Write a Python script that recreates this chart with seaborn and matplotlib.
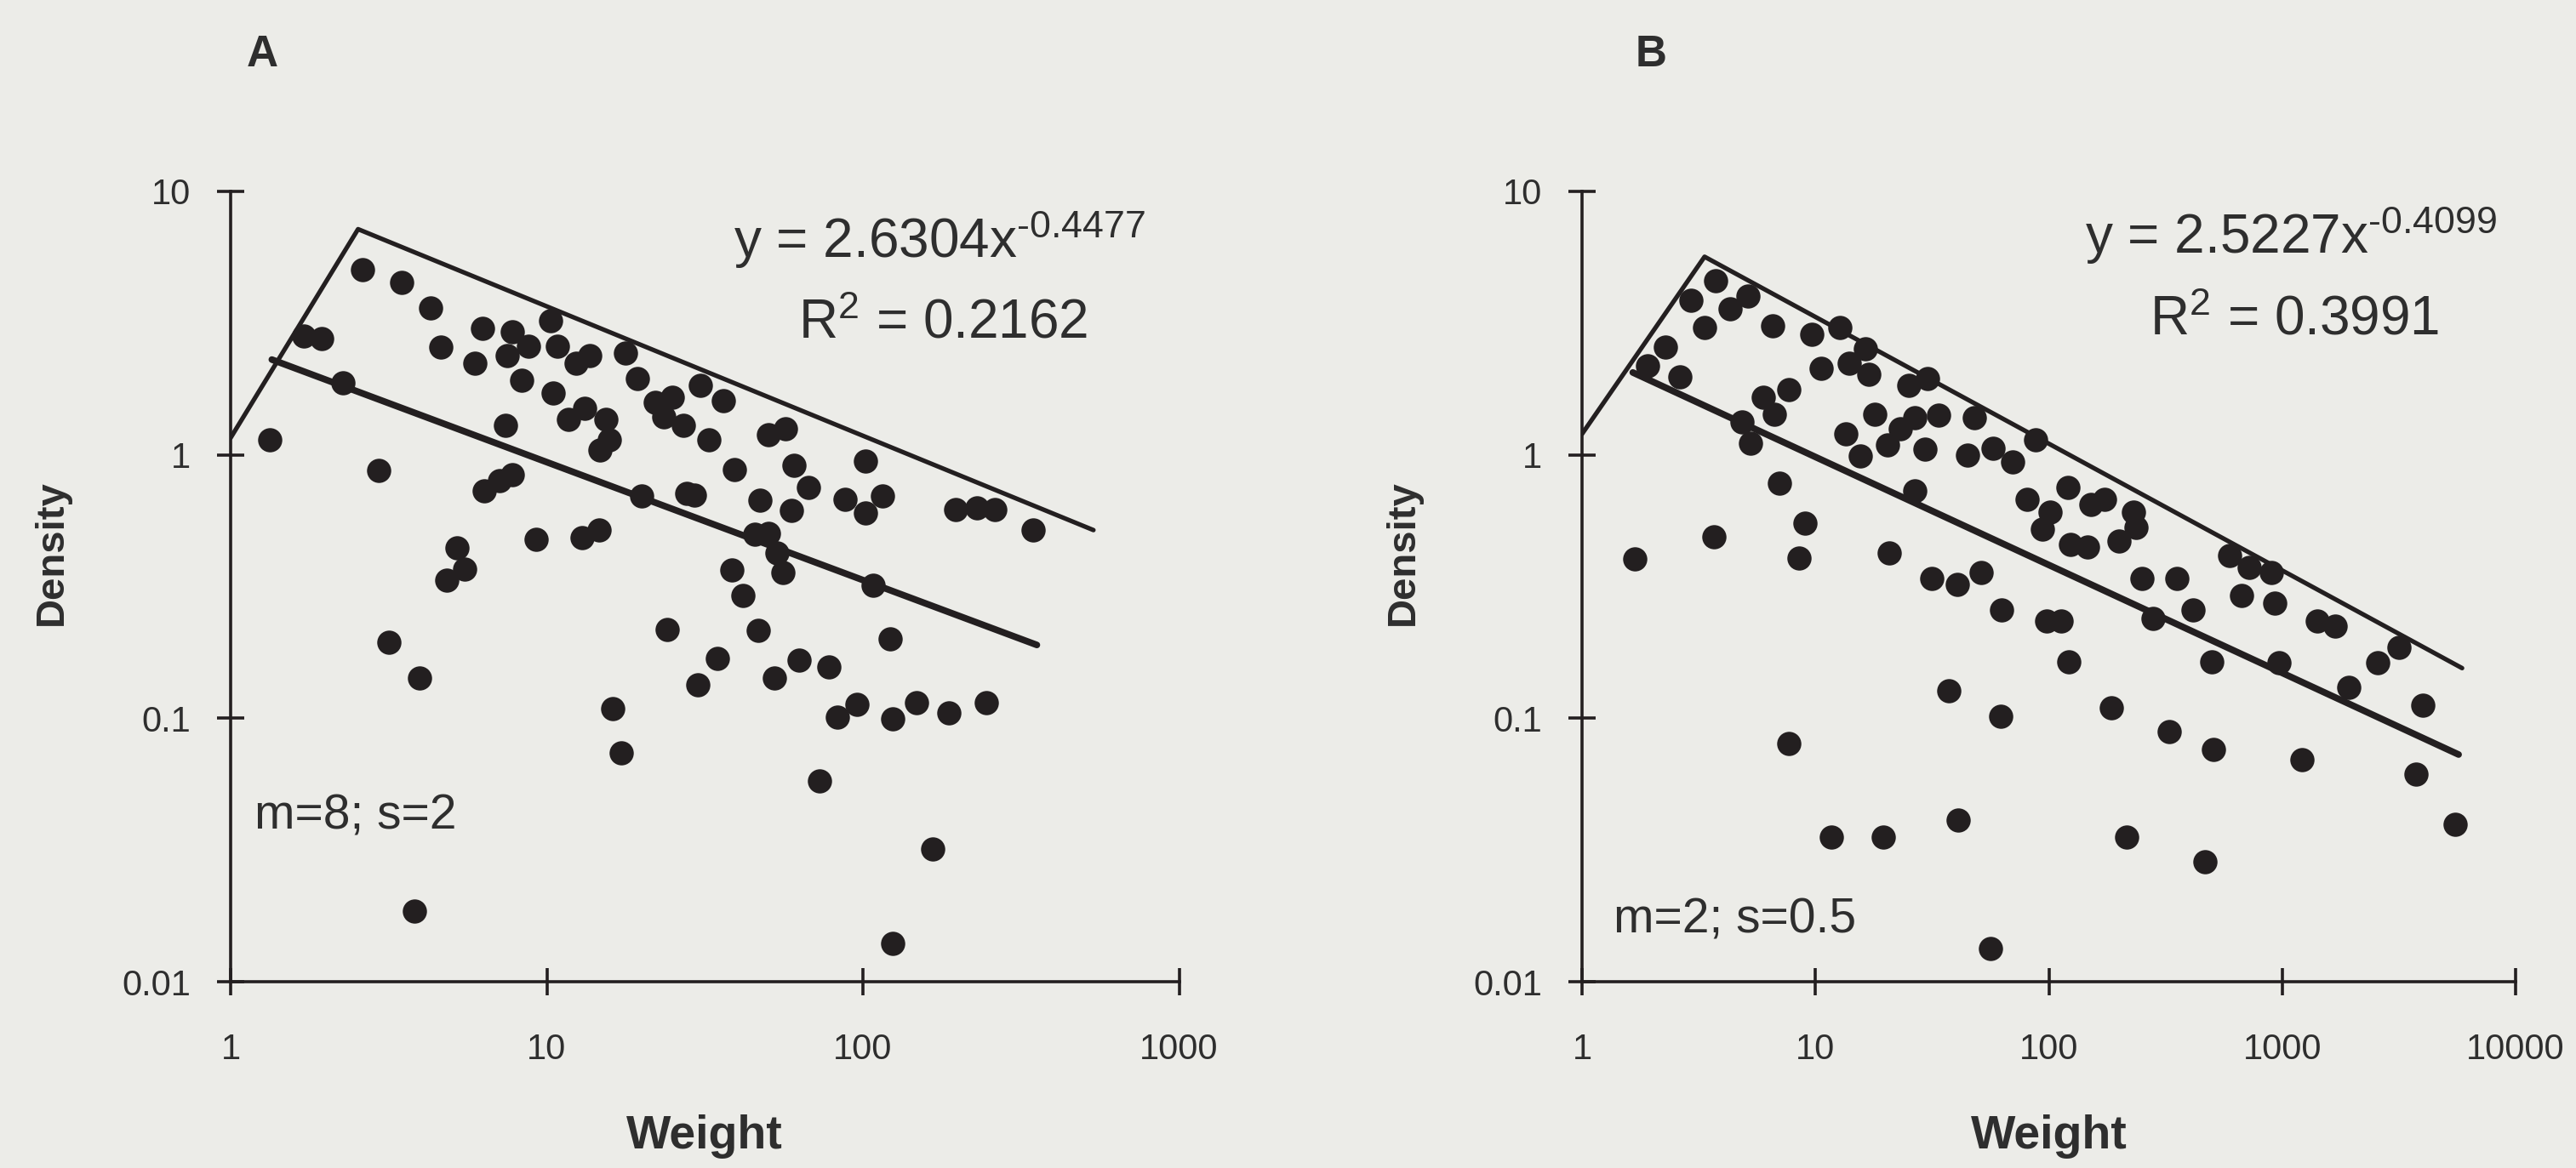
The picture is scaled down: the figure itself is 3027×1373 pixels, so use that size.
import matplotlib
matplotlib.use("Agg")
import matplotlib.pyplot as plt
import matplotlib.ticker as mticker
import numpy as np
import pandas as pd
import seaborn as sns

W, H = 3027, 1373

# ---------------- data ----------------
weight_a = [2.61, 3.47, 4.30, 6.28, 4.61, 5.92, 7.77, 8.75, 7.50, 8.35, 7.41, 1.33, 1.70, 1.94,
            2.26, 2.94, 6.35, 7.07, 7.77,
            5.19, 5.51, 4.84, 9.28, 3.16, 3.96, 3.81, 16.2, 17.2, 24.0,
            10.3, 10.8, 12.4, 13.7, 17.7, 19.3, 10.5, 11.7, 13.2, 15.4, 15.8, 14.7, 22.0, 24.9,
            23.5, 27.1, 30.7, 36.2, 32.6, 39.3, 50.4, 57.0, 60.6, 67.3, 59.4, 47.3, 102, 87.9,
            102, 115, 27.7, 29.4, 19.9, 12.9, 14.6, 45.4, 50.4, 53.6, 55.9, 38.5, 41.8, 108,
            197, 230, 261,
            346, 46.7, 122, 34.7, 30.1, 52.4, 62.7, 78.0, 83.1, 95.8, 124, 148, 187, 245,
            73.1, 166, 124]
density_a = [5.06, 4.52, 3.62, 3.01, 2.56, 2.23, 2.93, 2.59, 2.38, 1.92, 1.29, 1.14, 2.83, 2.76,
             1.88, 0.871, 0.732, 0.798, 0.839,
             0.444, 0.369, 0.334, 0.477, 0.194, 0.142, 0.0186, 0.109, 0.0739, 0.218,
             3.23, 2.58, 2.23, 2.38, 2.44, 1.95, 1.72, 1.36, 1.50, 1.36, 1.14, 1.04, 1.58, 1.66,
             1.39, 1.29, 1.83, 1.60, 1.14, 0.881, 1.19, 1.26, 0.915, 0.750, 0.615, 0.671, 0.949, 0.679,
             0.601, 0.697, 0.714, 0.705, 0.697, 0.486, 0.518, 0.499, 0.505, 0.425, 0.357, 0.366, 0.292, 0.319,
             0.62, 0.63, 0.62,
             0.519, 0.215, 0.200, 0.169, 0.134, 0.142, 0.166, 0.157, 0.101, 0.113, 0.0996, 0.115, 0.105, 0.115,
             0.058, 0.0319, 0.0140]

weight_b = [3.74, 2.94, 4.32, 5.16, 3.34, 6.57, 2.28, 1.91, 2.63, 9.65, 12.7, 16.4, 10.6, 14.0,
            16.9, 7.71, 5.97, 6.67, 4.84, 5.25, 13.5, 15.6, 7.01,
            25.2, 30.2, 18.0, 20.4, 23.2, 26.7, 33.8, 29.4, 48.0, 44.7, 57.5, 70.0, 87.6, 26.7,
            20.7, 31.5, 40.6, 51.4, 62.6, 97.9, 113, 80.5, 121, 151, 174, 101, 93.9, 124, 147,
            230, 237, 200, 250, 355, 596, 722, 667, 414, 280,
            900, 932, 1416, 1686, 3155, 2559, 4020, 1936, 965, 122, 62.2, 185, 499, 328, 507,
            1211, 3750, 5500, 216, 465,
            1.68, 3.68, 9.06, 8.49, 7.71, 37.3, 11.7, 19.6, 41.0, 56.5]
density_b = [4.58, 3.85, 3.58, 4.00, 3.04, 3.08, 2.56, 2.18, 1.97, 2.86, 3.04, 2.53, 2.13, 2.23,
             2.02, 1.77, 1.66, 1.43, 1.33, 1.11, 1.20, 0.99, 0.779,
             1.83, 1.95, 1.43, 1.09, 1.26, 1.38, 1.41, 1.05, 1.38, 1.00, 1.06, 0.938, 1.14, 0.732,
             0.425, 0.340, 0.323, 0.357, 0.258, 0.234, 0.234, 0.679, 0.750, 0.647, 0.679, 0.608, 0.524, 0.457, 0.446,
             0.608, 0.531, 0.469, 0.340, 0.340, 0.414, 0.374, 0.292, 0.258, 0.240,
             0.358, 0.273, 0.234, 0.224, 0.186, 0.162, 0.112, 0.131, 0.162, 0.164, 0.102, 0.110, 0.164, 0.0889, 0.0760,
             0.0698, 0.0614, 0.0395, 0.0353, 0.0285,
             0.402, 0.490, 0.549, 0.407, 0.0805, 0.127, 0.0353, 0.0353, 0.0412, 0.0134]

# power-law fits y = c * x^k and the x range the fitted line covers
fit_a = (2.6304, -0.4477)
fit_b = (2.5227, -0.4099)
fit_range_a = [1.35, 355]
fit_range_b = [1.65, 5700]
r2_a = 0.2162
r2_b = 0.3991

# envelope (left edge + upper boundary) vertices
envelope_a_x = [1.0, 2.53, 536]
envelope_a_y = [1.16, 7.19, 0.518]
envelope_b_x = [1.0, 3.35, 5900]
envelope_b_y = [1.20, 5.65, 0.155]

params_a = "m=8; s=2"
params_b = "m=2; s=0.5"
panel_labels = ["A", "B"]

x_ticks_a = [1, 10, 100, 1000]
x_ticks_b = [1, 10, 100, 1000, 10000]
x_labels_a = ["1", "10", "100", "1000"]
x_labels_b = ["1", "10", "100", "1000", "10000"]
y_ticks = [0.01, 0.1, 1, 10]
y_labels = ["0.01", "0.1", "1", "10"]

# ---------------- style ----------------
sns.set_theme(style="white")
plt.rcParams["font.family"] = ["Liberation Sans", "DejaVu Sans"]
plt.rcParams["mathtext.fontset"] = "custom"
plt.rcParams["mathtext.rm"] = "Liberation Sans"
plt.rcParams["mathtext.it"] = "Liberation Sans:italic"
plt.rcParams["mathtext.bf"] = "Liberation Sans:bold"

BG = "#ECECE8"
INK = "#231F20"
TXT = "#2E2E2E"

fig = plt.figure(figsize=(W / 100, H / 100), dpi=100, facecolor=BG)


def px_axes(left, right, top, bottom):
    return fig.add_axes([left / W, 1 - bottom / H, (right - left) / W, (bottom - top) / H])


def ftext(X, Y, s, **kw):
    fig.text(X / W, 1 - Y / H, s, color=TXT, **kw)


AX_TOP, AX_BOT = 225, 1154
panels = [
    dict(box=(271, 1385.5), x=weight_a, y=density_a, fit=fit_a, fr=fit_range_a, r2=r2_a,
         ex=envelope_a_x, ey=envelope_a_y, xt=x_ticks_a, xl=x_labels_a,
         eq_x=1104, eq_y=(303, 398), par=params_a, par_xy=(299, 975), lab=panel_labels[0], lab_x=308),
    dict(box=(1859, 2956), x=weight_b, y=density_b, fit=fit_b, fr=fit_range_b, r2=r2_b,
         ex=envelope_b_x, ey=envelope_b_y, xt=x_ticks_b, xl=x_labels_b,
         eq_x=2692, eq_y=(298, 393), par=params_b, par_xy=(1896, 1097), lab=panel_labels[1], lab_x=1940),
]

for p in panels:
    left, right = p["box"]
    ax = px_axes(left, right, AX_TOP, AX_BOT)
    ax.set_facecolor(BG)
    ax.set_xscale("log")
    ax.set_yscale("log")

    df = pd.DataFrame({"Weight": p["x"], "Density": p["y"]})
    sns.scatterplot(data=df, x="Weight", y="Density", ax=ax, s=420, color=INK,
                    linewidth=0, zorder=3, clip_on=False)

    env = pd.DataFrame({"Weight": p["ex"], "Density": p["ey"]})
    sns.lineplot(data=env, x="Weight", y="Density", ax=ax, color=INK, linewidth=3.8,
                 estimator=None, sort=False, zorder=2)

    c, k = p["fit"]
    fx = np.array(p["fr"], dtype=float)
    fit_df = pd.DataFrame({"Weight": fx, "Density": c * fx ** k})
    sns.lineplot(data=fit_df, x="Weight", y="Density", ax=ax, color=INK, linewidth=5.6,
                 estimator=None, sort=False, zorder=2)

    ax.set_xlim(p["xt"][0], p["xt"][-1])
    ax.set_ylim(y_ticks[0], y_ticks[-1])

    for s in ["top", "right"]:
        ax.spines[s].set_visible(False)
    for s in ["left", "bottom"]:
        ax.spines[s].set_linewidth(2.6)
        ax.spines[s].set_color(INK)

    ax.xaxis.set_major_locator(mticker.FixedLocator(p["xt"]))
    ax.xaxis.set_major_formatter(mticker.FixedFormatter(p["xl"]))
    ax.yaxis.set_major_locator(mticker.FixedLocator(y_ticks))
    ax.yaxis.set_major_formatter(mticker.FixedFormatter(y_labels))
    ax.xaxis.set_minor_locator(mticker.NullLocator())
    ax.yaxis.set_minor_locator(mticker.NullLocator())
    ax.tick_params(axis="both", which="major", direction="inout", length=23, width=2.6,
                   color=INK, labelsize=30, labelcolor=TXT, bottom=True, left=True)
    ax.tick_params(axis="x", pad=32)
    ax.tick_params(axis="y", pad=22)

    axw = right - left
    axh = AX_BOT - AX_TOP
    ax.set_xlabel("Weight", fontsize=40, fontweight="bold", color=TXT)
    ax.xaxis.set_label_coords(0.5, (AX_BOT - 1350) / axh)
    ax.xaxis.label.set_va("baseline")
    ax.set_ylabel("Density", fontsize=34, fontweight="bold", color=TXT)
    ax.yaxis.set_label_coords(-210 / axw, (AX_BOT - 650) / axh)
    ax.yaxis.label.set_va("center")
    ax.yaxis.label.set_ha("center")

    eq = f"y = {c:.4f}x" + r"$^{\text{" + f"{k:.4f}" + r"}}$"
    ftext(p["eq_x"], p["eq_y"][0], eq, fontsize=46, ha="center", va="baseline")
    ftext(p["eq_x"] + 4, p["eq_y"][1], r"R$^{2}$" + f" = {p['r2']:.4f}", fontsize=46,
          ha="center", va="baseline")
    ftext(p["par_xy"][0], p["par_xy"][1], p["par"], fontsize=41, ha="left", va="baseline")
    ftext(p["lab_x"], 64, p["lab"], fontsize=37, fontweight="bold", ha="center", va="center")

fig.savefig("out.png", dpi=100, facecolor=BG)
